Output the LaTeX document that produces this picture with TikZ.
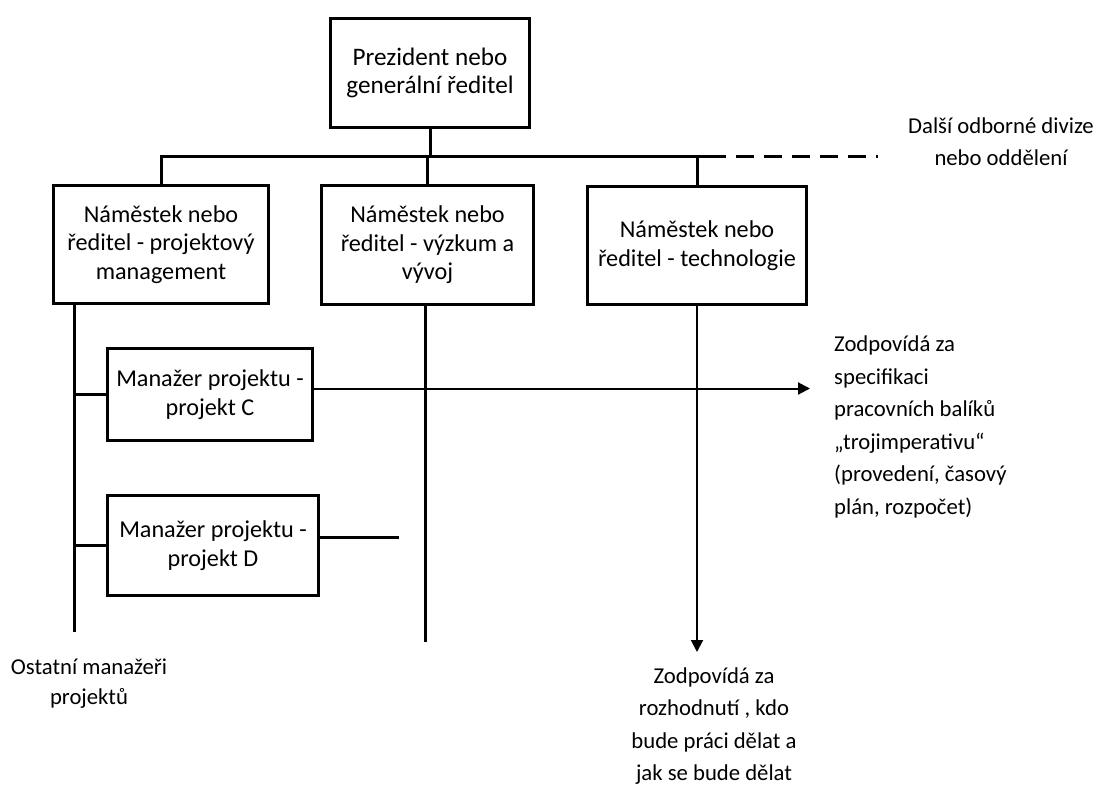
\documentclass[tikz,border=0pt]{standalone}
\usepackage{fontspec}
\setmainfont{Carlito}
\usetikzlibrary{arrows.meta}

\tikzset{
  orgbox/.style={draw, line width=3pt, align=center, inner sep=0pt,
    font=\fontsize{24.2}{28.5}\selectfont},
  freetext/.style={align=center, inner sep=0pt,
    font=\fontsize{22.7}{32.6}\selectfont},
  conn/.style={line width=3pt},
  thinarrow/.style={line width=2pt, -{Triangle[length=12pt,width=12pt]}},
}

\begin{document}
\begin{tikzpicture}[x=1pt, y=-1pt]
\useasboundingbox (0,0) rectangle (1099,785);

% boxes
\node[orgbox, minimum width=199pt, minimum height=109pt,
  font=\fontsize{25.2}{28}\selectfont] (pres) at (430,73)
  {Prezident nebo\\generální ředitel};
\node[orgbox, minimum width=215pt, minimum height=118pt] (dep1) at (161,244.5)
  {Náměstek nebo\\ředitel - projektový\\management};
\node[orgbox, minimum width=212pt, minimum height=119pt] (dep2) at (427.5,245)
  {Náměstek nebo\\ředitel - výzkum a\\vývoj};
\node[orgbox, minimum width=219pt, minimum height=118pt] (dep3) at (697,245.5)
  {Náměstek nebo\\ředitel - technologie};
\node[orgbox, minimum width=205pt, minimum height=92pt] (mC) at (210,394.5)
  {Manažer projektu -\\projekt C};
\node[orgbox, minimum width=211pt, minimum height=100pt] (mD) at (213,545.5)
  {Manažer projektu -\\projekt D};

% free labels
\node[freetext] (more) at (1001,141.5) {Další odborné divize\\nebo oddělení};
\node[freetext, align=left, anchor=west] (spec) at (834,427)
  {Zodpovídá za\\specifikaci\\pracovních balíků\\„trojimperativu“\\(provedení, časový\\plán, rozpočet)};
\node[freetext] (decide) at (714,726)
  {Zodpovídá za\\rozhodnutí , kdo\\bude práci dělat a\\jak se bude dělat};
\node[freetext, font=\fontsize{22.7}{30}\selectfont] (others) at (89,684)
  {Ostatní manažeři\\projektů};

% bus coordinates
\coordinate (busL) at (160,156);
\coordinate (busR) at (708,156);
\coordinate (busD) at (878,156);
\coordinate (lTop) at (74,305);
\coordinate (lBot) at (74,632);
\coordinate (rBot) at (425,642);
\coordinate (dEnd) at (399,537);
\coordinate (specTip) at (810,388.5);
\coordinate (decideTip) at (697,652);

% top level bus
\draw[conn] (pres.south) -- (pres.south |- busL);
\draw[conn] (busL) -- (busR);
\draw[conn, dash pattern=on 18pt off 10pt] (busR) -- (busD);
\draw[conn] (dep1.north) -- (dep1.north |- busL);
\draw[conn] (dep2.north) -- (dep2.north |- busL);
\draw[conn] (dep3.north) -- (dep3.north |- busL);

% project management branch
\draw[conn] (lTop) -- (lBot);
\draw[conn] (mC.west -| lTop) -- (mC.west);
\draw[conn] (mD.west -| lTop) -- (mD.west);
\draw[conn] ([yshift=8.5pt]mD.east) -- (dEnd);

% research line
\draw[conn] (rBot |- dep2.south) -- (rBot);

% responsibility arrows
\draw[thinarrow] ([yshift=6pt]mC.east) -- (specTip);
\draw[thinarrow] (dep3.south) -- (decideTip);
\end{tikzpicture}
\end{document}
